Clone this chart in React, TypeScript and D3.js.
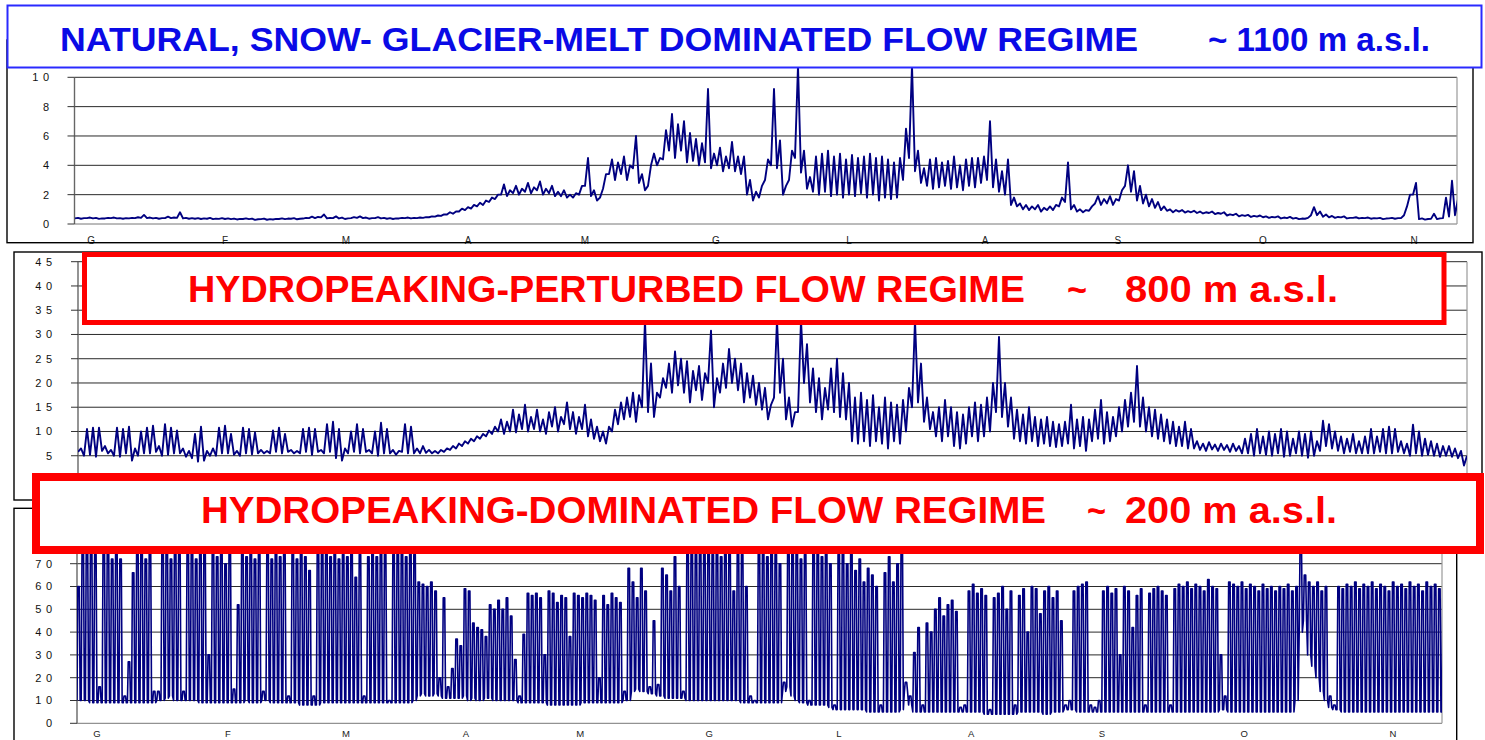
import React from "react";
import * as d3 from "d3";

// ---------- DATA ----------
const MONTHS = ["G", "F", "M", "A", "M", "G", "L", "A", "S", "O", "N"];
// month label positions in sample-index units of each panel
const P1_MONTH_AT = [2.67, 25, 45.17, 65.5, 85, 106.8, 129, 151.7, 173.8, 198, 223.2];
const P3_MONTH_AT = [4.76, 35.95, 64.05, 92.6, 119.8, 150.5, 181.4, 212.9, 244, 277.9, 313.3];

const P1_TICKS = [0, 2, 4, 6, 8, 10];
const P2_TICKS = [0, 5, 10, 15, 20, 25, 30, 35, 40, 45];
const P3_TICKS = [0, 10, 20, 30, 40, 50, 60, 70, 80];

// Panel 1 (natural regime) [low, high] per sample
const p1Jan = [[.38,.42],[.36,.4],[.4,.44],[.38,.42],[.35,.38],[.38,.42],[.4,.44],[.38,.4],[.36,.4],[.38,.42],[.4,.46],[.42,.62],[.4,.44],[.38,.42],[.36,.4],[.4,.5],[.4,.44],[.42,.8],[.38,.42],[.36,.4]];
const p1Feb = [[.36,.4],[.34,.38],[.36,.42],[.33,.37],[.35,.4],[.34,.38],[.33,.37],[.31,.35],[.34,.38],[.33,.37],[.28,.32],[.33,.37],[.29,.33],[.31,.35],[.34,.38],[.33,.37],[.36,.4],[.32,.36],[.37,.42],[.4,.5]];
const p1Mar = [[.4,.48],[.45,.65],[.38,.42],[.4,.52],[.38,.44],[.34,.38],[.4,.47],[.42,.52],[.4,.44],[.36,.4],[.4,.47],[.38,.42],[.36,.4],[.34,.38],[.38,.42],[.4,.44],[.38,.42],[.4,.44],[.42,.47],[.46,.52]];
const p1Apr = [[.5,.58],[.55,.65],[.65,.8],[.7,.85],[.85,1.05],[.95,1.15],[1.05,1.3],[1.2,1.45],[1.3,1.6],[1.5,1.8],[1.7,2.0],[2.0,2.7],[1.9,2.3],[2.1,2.6],[2.0,2.4],[2.2,2.8],[2.1,2.5],[2.3,2.9],[2.0,2.4],[2.1,2.6]];
const p1May = [[1.9,2.2],[1.9,2.3],[1.8,2.0],[1.8,2.1],[2.0,2.6],[2.6,4.5],[1.9,2.3],[1.6,1.8],[2.4,3.4],[3.4,4.4],[3.0,4.2],[3.4,4.6],[3.0,4.0],[3.8,6.0],[2.8,3.4],[2.3,2.6],[4.0,4.8],[4.0,4.5],[4.4,6.4],[5.0,7.5]];
const p1Jun = [[4.5,6.8],[5.0,7.0],[4.2,6.2],[4.3,5.8],[4.0,5.5],[4.2,9.2],[3.8,4.8],[4.0,5.2],[3.6,4.6],[3.8,5.6],[3.6,4.6],[3.4,4.6],[2.0,3.0],[1.6,2.2],[1.8,2.6],[3.0,4.4],[4.0,9.2],[3.8,5.7],[2.0,2.6],[3.0,5.0]];
const p1Jul = [[4.5,10.8],[3.5,5.0],[2.4,3.2],[2.2,4.6],[2.0,4.8],[2.2,5.0],[1.9,4.6],[2.0,4.8],[1.8,4.4],[2.0,4.7],[1.9,4.5],[2.1,4.6],[1.8,4.8],[2.0,4.5],[1.6,4.6],[1.8,4.4],[1.7,4.2],[1.8,4.5],[3.0,6.5],[4.5,10.8]];
const p1Aug = [[3.6,5.0],[2.8,3.8],[2.6,4.4],[2.4,4.5],[2.5,4.2],[2.6,4.3],[2.4,4.6],[2.5,4.0],[2.3,4.4],[2.6,4.5],[2.5,4.5],[2.8,4.6],[3.0,7.0],[2.5,4.4],[2.2,3.6],[2.0,4.4],[1.3,1.8],[1.2,1.4],[1.0,1.3],[.95,1.2]];
const p1Sep = [[1.0,1.3],[.85,1.1],[.95,1.2],[.95,1.3],[1.2,1.8],[1.5,4.2],[1.0,1.3],[.85,1.0],[.8,.95],[.9,1.2],[1.4,1.9],[1.3,1.7],[1.4,1.9],[1.3,1.7],[1.6,2.3],[2.6,4.0],[2.2,3.6],[1.6,2.6],[1.4,2.0],[1.2,1.7]];
const p1Oct = [[1.1,1.5],[.95,1.2],[.9,1.0],[.8,.95],[.85,.95],[.78,.88],[.8,.9],[.75,.85],[.72,.8],[.75,.85],[.68,.75],[.7,.8],[.58,.66],[.6,.7],[.52,.6],[.55,.62],[.48,.55],[.5,.58],[.46,.52],[.42,.48]];
const p1Nov = [[.45,.52],[.38,.44],[.4,.48],[.37,.42],[.33,.37],[.36,.42],[.6,1.15],[.6,.85],[.5,.65],[.45,.55],[.42,.48],[.45,.52],[.38,.42],[.42,.46],[.38,.42],[.4,.44],[.36,.4],[.38,.42],[.33,.37],[.38,.42],[.36,.4],[.4,.6],[1.2,2.0],[2.0,2.8],[.33,.38],[.3,.34],[.35,.7],[.33,.38],[.4,1.8],[.5,2.95],[.6,1.7]];

// Panel 2 (hydropeaking-perturbed)
const p2Jan = [[5.8,6.5],[5.0,10.5],[5.2,10.8],[4.8,10.8],[6.0,7.0],[5.5,6.2],[5.0,10.8],[4.8,10.5],[5.5,11.0],[4.0,6.5],[5.0,10.0],[5.5,10.8],[5.5,11.2],[5.8,7.0],[5.0,11.5],[5.2,10.8],[5.5,10.2],[5.5,6.5],[4.8,6.0],[4.5,9.5]];
const p2Feb = [[3.8,11.0],[4.0,6.0],[5.0,6.5],[5.0,10.8],[5.5,11.2],[5.5,9.5],[5.2,6.0],[5.0,10.8],[5.5,10.5],[5.3,9.8],[5.5,6.2],[5.5,6.0],[5.5,10.2],[5.8,10.8],[5.5,9.5],[5.8,6.2],[5.5,6.0],[5.5,10.5],[5.8,10.8],[5.2,10.5]];
const p2Mar = [[5.8,6.2],[5.5,11.5],[5.8,12.0],[4.5,10.5],[4.0,6.5],[5.5,10.0],[5.8,11.5],[5.5,10.5],[5.8,6.2],[5.5,10.0],[5.0,11.8],[5.5,10.5],[5.5,6.2],[5.2,6.0],[5.8,11.5],[5.5,11.0],[5.5,6.5],[5.5,7.0],[5.6,6.2],[5.5,6.0]];
const p2Apr = [[5.5,6.2],[5.8,6.5],[6.2,7.0],[6.5,7.5],[7.0,8.0],[7.5,8.5],[8.0,9.0],[8.5,9.5],[9.0,10.2],[9.5,11.0],[10.0,12.5],[9.5,12.0],[10.0,14.5],[9.8,13.5],[10.5,15.5],[10.0,13.0],[10.5,14.5],[10.0,12.5],[9.5,14.0],[11.0,15.0]];
const p2May = [[10.0,13.0],[11.5,16.0],[10.5,14.0],[9.5,13.0],[10.5,15.5],[9.0,12.5],[8.5,11.0],[8.0,10.0],[7.5,11.0],[10.0,14.5],[11.5,16.0],[12.5,17.0],[13.0,18.0],[12.0,17.5],[15.0,33.0],[14.0,24.0],[13.0,18.0],[17.0,21.0],[19.0,24.0],[18.0,26.5]];
const p2Jun = [[19.5,25.0],[18.0,24.5],[16.0,22.5],[18.5,23.5],[16.5,22.0],[20.0,30.8],[15.0,21.0],[18.0,24.0],[19.0,27.0],[20.0,25.0],[18.5,24.0],[16.0,22.0],[17.0,21.5],[15.5,20.0],[14.5,19.0],[12.5,15.5],[17.0,33.0],[18.0,25.0],[12.5,17.0],[11.0,14.0]];
const p2Jul = [[14.0,33.0],[20.0,28.0],[16.0,23.0],[14.0,21.0],[12.5,19.0],[14.5,23.0],[14.0,25.0],[13.0,22.0],[12.5,20.0],[8.0,17.0],[7.5,18.0],[8.0,16.5],[7.0,17.5],[8.0,15.0],[7.5,17.0],[6.5,16.0],[8.0,15.5],[7.5,16.5],[10.0,19.0],[15.0,33.0]];
const p2Aug = [[16.0,24.0],[12.0,17.0],[10.5,14.0],[9.0,15.0],[8.0,16.5],[9.0,15.0],[7.0,14.0],[6.5,13.5],[7.5,15.0],[9.0,16.0],[8.0,15.5],[9.0,17.0],[10.0,20.0],[14.0,29.5],[13.0,20.0],[11.0,17.0],[8.5,14.5],[8.0,13.5],[7.5,15.0],[8.0,13.0]];
const p2Sep = [[7.0,12.5],[7.5,13.0],[7.0,12.0],[6.8,11.5],[7.0,12.0],[7.5,15.5],[6.5,12.5],[7.0,13.0],[6.0,12.5],[8.0,14.5],[8.5,16.5],[7.5,14.0],[8.0,13.0],[9.0,15.0],[10.0,16.5],[11.0,18.0],[12.0,23.5],[11.0,17.0],[10.0,15.0],[9.0,14.5]];
const p2Oct = [[8.5,13.5],[8.0,12.5],[7.5,12.0],[7.0,11.0],[7.0,12.0],[6.5,10.5],[6.5,8.0],[6.2,7.5],[6.0,7.8],[6.3,7.3],[6.0,7.5],[6.2,7.2],[5.8,7.5],[6.0,7.0],[5.5,8.5],[5.5,9.5],[5.0,10.5],[5.5,9.0],[5.2,10.0],[5.0,9.5]];
const p2Nov = [[5.5,10.5],[4.8,10.0],[5.0,8.5],[5.5,10.0],[5.0,9.5],[4.6,10.0],[5.0,8.0],[6.0,12.2],[7.0,11.5],[6.5,10.0],[6.0,9.0],[5.5,8.5],[5.8,9.5],[5.5,8.0],[5.5,9.0],[5.5,10.5],[5.5,9.0],[5.8,10.5],[5.5,11.0],[5.5,10.5],[5.8,8.0],[5.5,7.5],[5.0,11.4],[5.5,10.0],[5.0,8.5],[5.2,8.0],[5.0,7.5],[4.8,7.0],[5.0,7.0],[4.8,6.5],[4.5,6.0],[3.0,5.0]];

// Panel 3 (hydropeaking-dominated) [base, daily peak]
const p3a = [[10,60],[10,78],[10,78],[9,78],[9,74],[9,16],[9,78],[9,78],[9,72],[9,78],[9,72],[9,12],[9,27],[9,66],[9,78],[9,78],[9,72],[9,78],[9,14],[10,14]];
const p3b = [[10,78],[11,78],[12,72],[10,78],[10,78],[10,14],[10,78],[10,78],[10,72],[9,78],[9,76],[9,30],[9,78],[9,73],[9,78],[9,70],[9,78],[9,15],[9,52],[9,78]];
const p3c = [[10,73],[9,78],[9,72],[9,78],[10,14],[10,78],[9,72],[9,78],[9,73],[9,78],[9,12],[9,78],[9,72],[8,78],[8,73],[8,67],[8,12],[8,78],[9,76],[9,78]];
const p3d = [[9,73],[9,76],[9,72],[9,74],[9,73],[9,75],[9,64],[9,74],[9,12],[9,73],[9,75],[9,73],[9,76],[9,74],[9,10],[9,74],[9,76],[9,75],[9,73],[9,76]];
const p3e = [[10,74],[12,62],[13,61],[12,60],[12,62],[13,58],[12,20],[11,55],[11,16],[11,24],[11,37],[11,34],[12,59],[10,58],[11,44],[10,42],[10,41],[11,38],[11,52],[10,50]];
const p3f = [[10,54],[10,50],[10,55],[10,47],[10,28],[9,12],[9,39],[9,57],[9,56],[9,57],[9,55],[9,30],[8,58],[8,57],[8,53],[8,56],[8,55],[8,38],[8,57],[8,56]];
const p3g = [[9,55],[9,57],[9,56],[9,54],[9,20],[9,56],[9,52],[9,57],[9,55],[9,53],[10,14],[10,68],[14,62],[15,55],[14,68],[14,58],[13,16],[13,45],[12,17],[12,68]];
const p3h = [[11,65],[11,58],[11,73],[11,60],[11,14],[10,77],[10,76],[10,74],[10,77],[10,75],[10,77],[10,74],[10,76],[10,73],[10,77],[10,75],[10,58],[10,76],[9,74],[9,60]];
const p3i = [[9,12],[9,10],[9,75],[9,76],[9,73],[9,76],[9,74],[9,70],[14,18],[16,78],[12,75],[10,76],[9,72],[9,74],[8,10],[8,76],[8,75],[8,73],[8,76],[7,70]];
const p3j = [[6,8],[6,74],[6,76],[6,70],[6,75],[6,67],[6,72],[6,62],[5,68],[5,65],[5,60],[5,8],[5,66],[5,73],[5,62],[5,70],[6,78],[14,18],[8,12],[5,31]];
const p3k = [[5,42],[5,8],[5,44],[5,40],[5,50],[5,55],[5,47],[5,52],[5,54],[5,49],[5,7],[5,8],[5,58],[5,61],[5,57],[5,59],[4,56],[4,6],[4,55],[4,57]];
const p3l = [[4,60],[4,50],[4,58],[4,8],[5,56],[5,59],[5,40],[5,60],[5,59],[5,48],[4,58],[4,60],[5,55],[5,58],[5,45],[6,8],[6,10],[6,58],[5,60],[5,61]];
const p3m = [[5,62],[5,8],[5,7],[5,10],[5,58],[5,60],[5,57],[5,59],[5,30],[5,60],[5,58],[5,42],[5,56],[5,59],[5,8],[5,57],[5,59],[5,60],[5,58],[5,56]];
const p3n = [[5,8],[5,59],[5,61],[5,60],[5,62],[5,59],[5,61],[5,60],[5,58],[5,63],[5,60],[5,59],[6,30],[6,12],[5,62],[5,61],[5,60],[5,62],[5,59],[5,61]];
const p3o = [[5,60],[5,58],[5,61],[5,59],[5,60],[5,58],[5,60],[5,59],[5,61],[5,58],[10,60],[40,78],[45,65],[30,62],[25,60],[20,62],[14,58],[10,60],[7,12],[6,8]];
const p3p = [[6,60],[5,59],[5,61],[5,60],[5,62],[5,59],[5,61],[5,60],[5,62],[5,59],[5,61],[5,60],[5,58],[5,62],[5,60],[5,61],[5,59],[5,62],[5,60],[5,61],[5,58],[5,62],[5,60],[5,61],[5,59],[5,60]];

const P1 = [...p1Jan, ...p1Feb, ...p1Mar, ...p1Apr, ...p1May, ...p1Jun, ...p1Jul, ...p1Aug, ...p1Sep, ...p1Oct, ...p1Nov];
const P2 = [...p2Jan, ...p2Feb, ...p2Mar, ...p2Apr, ...p2May, ...p2Jun, ...p2Jul, ...p2Aug, ...p2Sep, ...p2Oct, ...p2Nov];
const P3 = [...p3a, ...p3b, ...p3c, ...p3d, ...p3e, ...p3f, ...p3g, ...p3h, ...p3i, ...p3j, ...p3k, ...p3l, ...p3m, ...p3n, ...p3o, ...p3p];

// ---------- DRAWING ----------
const FONT = "'Liberation Sans', Arial, Helvetica, sans-serif";
const LINE = "#000080";

// zigzag through each sample's low then high; "plateau" keeps the high for part of the step
function zigzag(pairs: number[][], x: (v: number) => number, y: (v: number) => number, plateau: boolean) {
  const pts: [number, number][] = [];
  pairs.forEach(([lo, hi], i) => {
    pts.push([x(i), y(lo)]);
    if (plateau) {
      pts.push([x(i + 0.2), y(hi)]);
      pts.push([x(i + 0.55), y(hi)]);
      pts.push([x(i + 0.75), y(lo)]);
    } else {
      pts.push([x(i + 0.5), y(hi)]);
    }
  });
  return d3.line()(pts) || "";
}

const spaced = (v: number) => String(v).split("").join(" ");

type PanelProps = {
  id: string;
  data: number[][];
  xRange: [number, number];
  yDomain: [number, number];
  yRange: [number, number];
  ticks: number[];
  axisX: number;
  plotRight: number;
  clipTop: number;
  labelX: number;
  plateau: boolean;
  lineWidth: number;
  monthAt?: number[];
  monthY?: number;
  monthSize?: number;
};

function Panel(p: PanelProps) {
  const x = d3.scaleLinear().domain([0, p.data.length - 1]).range(p.xRange);
  const y = d3.scaleLinear().domain(p.yDomain).range(p.yRange);
  const yTop = y(p.yDomain[1]);
  const yBot = y(p.yDomain[0]);
  return (
    <g>
      <defs>
        <clipPath id={p.id}>
          <rect x={p.axisX} y={p.clipTop} width={p.plotRight - p.axisX} height={yBot - p.clipTop} />
        </clipPath>
      </defs>
      {p.ticks.map((t) => (
        <line key={"g" + t} x1={p.axisX} x2={p.plotRight} y1={y(t)} y2={y(t)}
          stroke={t === 0 ? "#777" : "#2a2a2a"} strokeWidth={1} />
      ))}
      <line x1={p.plotRight} x2={p.plotRight} y1={yTop} y2={yBot} stroke="#999" strokeWidth={1.2} />
      <line x1={p.axisX} x2={p.axisX} y1={yTop} y2={yBot} stroke="#666" strokeWidth={1.4} />
      {p.ticks.map((t) => (
        <line key={"t" + t} x1={p.axisX - 7} x2={p.axisX} y1={y(t)} y2={y(t)} stroke="#333" strokeWidth={1} />
      ))}
      {p.ticks.map((t) => (
        <text key={"l" + t} x={p.labelX} y={y(t)} dy="0.36em" textAnchor="end"
          fontFamily={FONT} fontSize={11} letterSpacing={0.8} fill="#111">{spaced(t)}</text>
      ))}
      <path d={zigzag(p.data, x, y, p.plateau)} fill="none" stroke={LINE} strokeWidth={p.lineWidth}
        strokeLinejoin="round" clipPath={`url(#${p.id})`} />
      {p.monthAt && p.monthAt.map((m, i) => (
        <text key={"m" + i} x={x(m)} y={p.monthY} textAnchor="middle" fontFamily={FONT}
          fontSize={p.monthSize} fill="#222">{MONTHS[i]}</text>
      ))}
    </g>
  );
}

function TitleBox(props: { x: number; y: number; w: number; h: number; stroke: string; sw: number;
  color: string; size: number; base: number; parts: { t: string; x: number; w: number }[] }) {
  return (
    <g>
      <rect x={props.x} y={props.y} width={props.w} height={props.h} fill="#fff"
        stroke={props.stroke} strokeWidth={props.sw} />
      {props.parts.map((pt, i) => (
        <text key={i} x={pt.x} y={props.base} fontFamily={FONT} fontWeight="bold" fontSize={props.size}
          fill={props.color} textLength={pt.w} lengthAdjust="spacingAndGlyphs">{pt.t}</text>
      ))}
    </g>
  );
}

export default function App() {
  return (
    <svg width={1485} height={740} viewBox="0 0 1485 740"
      style={{ position: "absolute", left: 0, top: 0, display: "block", background: "#fff" }}>
      <rect x={0} y={0} width={1485} height={740} fill="#fff" />

      {/* Panel 1 */}
      <Panel id="c1" data={P1} xRange={[75, 1455]} yDomain={[0, 10]} yRange={[224, 77.3]}
        ticks={P1_TICKS} axisX={74.5} plotRight={1457} clipTop={66} labelX={50}
        plateau={false} lineWidth={1.9}
        monthAt={P1_MONTH_AT} monthY={243.5} monthSize={10} />
      <rect x={7} y={40} width={1466} height={202.7} fill="none" stroke="#000" strokeWidth={1.4} />
      <TitleBox x={7.5} y={5.5} w={1474} h={62} stroke="#2a2aff" sw={2} color="#0a0ae6" size={33.5} base={50.5}
        parts={[
          { t: "NATURAL, SNOW- GLACIER-MELT DOMINATED FLOW REGIME", x: 60, w: 1078 },
          { t: "~ 1100 m a.s.l.", x: 1208, w: 222 },
        ]} />

      {/* Panel 2 */}
      <Panel id="c2" data={P2} xRange={[78, 1464]} yDomain={[0, 45]} yRange={[480, 261.7]}
        ticks={P2_TICKS} axisX={78} plotRight={1467} clipTop={261.7} labelX={53}
        plateau={false} lineWidth={1.9} />
      <rect x={14} y={252} width={1468} height={248} fill="none" stroke="#000" strokeWidth={1.4} />
      <TitleBox x={84.5} y={254.5} w={1359.5} h={68} stroke="#ff0000" sw={5} color="#ff0000" size={37} base={301.5}
        parts={[
          { t: "HYDROPEAKING-PERTURBED FLOW REGIME", x: 188, w: 837 },
          { t: "~", x: 1067, w: 20 },
          { t: "800 m a.s.l.", x: 1125, w: 213 },
        ]} />

      {/* Panel 3 */}
      <Panel id="c3" data={P3} xRange={[77, 1442]} yDomain={[0, 80]} yRange={[723.3, 540.9]}
        ticks={P3_TICKS} axisX={77} plotRight={1442} clipTop={540.9} labelX={53}
        plateau={true} lineWidth={1.6}
        monthAt={P3_MONTH_AT} monthY={737} monthSize={9.5} />
      <rect x={14} y={508.3} width={1442.7} height={260} fill="none" stroke="#000" strokeWidth={1.4} />
      <TitleBox x={36} y={477} w={1444} h={73} stroke="#ff0000" sw={8} color="#ff0000" size={37} base={523.3}
        parts={[
          { t: "HYDROPEAKING-DOMINATED FLOW REGIME", x: 201, w: 845 },
          { t: "~", x: 1087, w: 19 },
          { t: "200 m a.s.l.", x: 1125, w: 212 },
        ]} />
    </svg>
  );
}
